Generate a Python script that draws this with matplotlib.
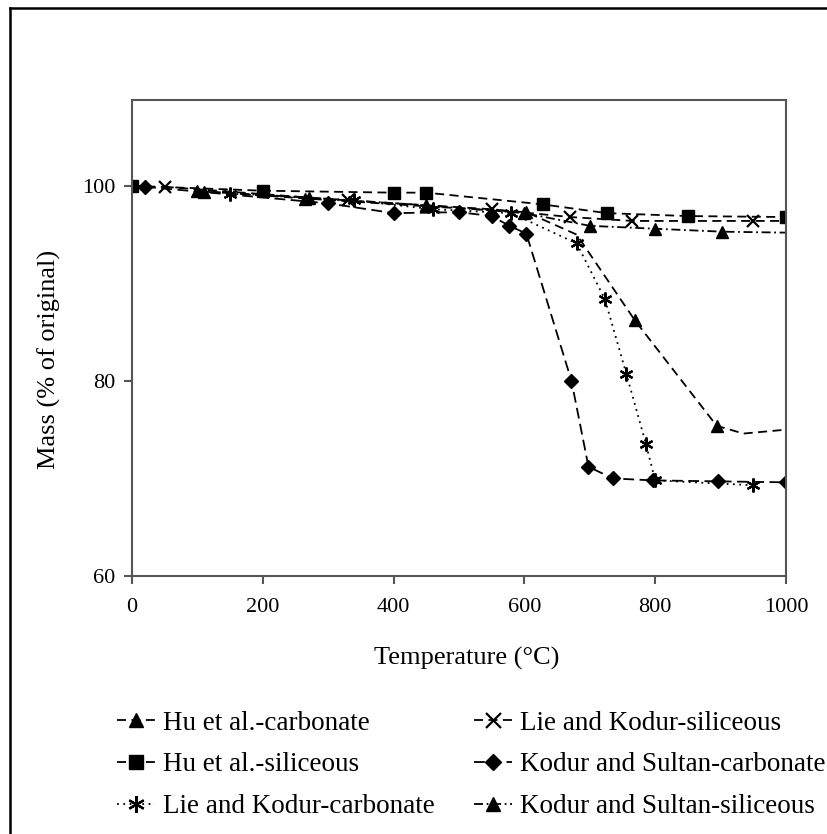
import matplotlib
matplotlib.use("Agg")
from matplotlib import pyplot as plt
from matplotlib.lines import Line2D

plt.rcParams["font.family"] = ["Liberation Serif", "DejaVu Serif"]

# Hu et al. - carbonate (the last two points only shape the line)
hu_carb_t = [100, 265, 450, 603, 680, 769, 894, 935, 1000]
hu_carb_m = [99.5, 98.7, 97.9, 97.3, 95.0, 86.2, 75.4, 74.6, 75.0]
hu_carb_marks = [0, 1, 2, 3, 5, 6]

# Hu et al. - siliceous
hu_sil_t = [0, 200, 400, 450, 628, 726, 850, 1000]
hu_sil_m = [100.0, 99.5, 99.3, 99.3, 98.1, 97.2, 96.9, 96.8]

# Lie and Kodur - carbonate
lk_carb_t = [150, 340, 460, 580, 680, 723, 756, 786, 800, 950]
lk_carb_m = [99.2, 98.5, 97.6, 97.2, 94.1, 88.4, 80.7, 73.5, 69.8, 69.3]

# Lie and Kodur - siliceous
lk_sil_t = [50, 330, 550, 670, 765, 950, 1000]
lk_sil_m = [99.9, 98.5, 97.6, 96.8, 96.4, 96.4, 96.4]
lk_sil_marks = [0, 1, 2, 3, 4, 5]

# Kodur and Sultan - carbonate
ks_carb_t = [20, 300, 400, 500, 550, 577, 603, 672, 698, 735, 796, 896, 1000]
ks_carb_m = [99.9, 98.2, 97.2, 97.3, 96.9, 95.9, 95.1, 80.0, 71.2, 70.0, 69.8, 69.7, 69.6]

# Kodur and Sultan - siliceous
ks_sil_t = [110, 270, 450, 600, 700, 800, 902, 1000]
ks_sil_m = [99.4, 98.8, 98.0, 97.2, 95.9, 95.6, 95.3, 95.2]
ks_sil_marks = [0, 1, 2, 3, 4, 5, 6]

labels = [
    "Hu et al.-carbonate",
    "Hu et al.-siliceous",
    "Lie and Kodur-carbonate",
    "Lie and Kodur-siliceous",
    "Kodur and Sultan-carbonate",
    "Kodur and Sultan-siliceous",
]

fig = plt.figure(figsize=(8.27, 8.34), dpi=100)
ax = fig.add_axes([0.1596, 0.3094, 0.7908, 0.5707])

lw = 1.3
ms = 8
asterisk = (6, 2, 0)

ax.plot(hu_carb_t, hu_carb_m, color="black", lw=lw, dashes=(5, 3),
        marker="^", ms=ms, markevery=hu_carb_marks, label=labels[0])
ax.plot(hu_sil_t, hu_sil_m, color="black", lw=lw, dashes=(5, 3),
        marker="s", ms=ms, label=labels[1])
ax.plot(lk_carb_t, lk_carb_m, color="black", lw=lw, dashes=(1, 2.5),
        marker=asterisk, ms=ms + 2, mew=1.6, label=labels[2])
ax.plot(lk_sil_t, lk_sil_m, color="black", lw=lw, dashes=(5, 3),
        marker="x", ms=ms + 1, mew=1.6, markevery=lk_sil_marks, label=labels[3])
ax.plot(ks_carb_t, ks_carb_m, color="black", lw=lw, dashes=(6, 3),
        marker="D", ms=ms - 1, label=labels[4])
ax.plot(ks_sil_t, ks_sil_m, color="black", lw=lw, dashes=(5, 2, 1, 2),
        marker="^", ms=ms, markevery=ks_sil_marks, label=labels[5])

ax.set_xlim(0, 1000)
ax.set_ylim(60, 108.8)
ax.set_xticks([0, 200, 400, 600, 800, 1000])
ax.set_yticks([60, 80, 100])

for side in ["left", "bottom", "right", "top"]:
    ax.spines[side].set_color("#555555")
    ax.spines[side].set_linewidth(1.5)
ax.tick_params(direction="out", length=6, width=1.5, color="#555555",
               labelsize=16)
ax.tick_params(axis="x", pad=10)
ax.tick_params(axis="y", pad=6)

ax.set_xlabel("Temperature (°C)", fontsize=19)
ax.set_ylabel("Mass (% of original)", fontsize=19)
ax.xaxis.set_label_coords(0.512, -0.15)
ax.yaxis.set_label_coords(-0.108, 0.454)

fig.legend(loc="upper left", bbox_to_anchor=(0.128, 0.161),
           ncol=2, frameon=False, fontsize=19.5, handlelength=1.4,
           handletextpad=0.3, columnspacing=1.45, labelspacing=0.62,
           markerscale=1.2, borderaxespad=0)

# outer frame of the original image (only left and top edges visible)
fig.add_artist(Line2D([10 / 827, 10 / 827], [0, 1 - 8 / 834],
                      transform=fig.transFigure, color="black", lw=1.8))
fig.add_artist(Line2D([10 / 827, 1], [1 - 8 / 834, 1 - 8 / 834],
                      transform=fig.transFigure, color="black", lw=1.8))

fig.savefig("out.png", dpi=100)
